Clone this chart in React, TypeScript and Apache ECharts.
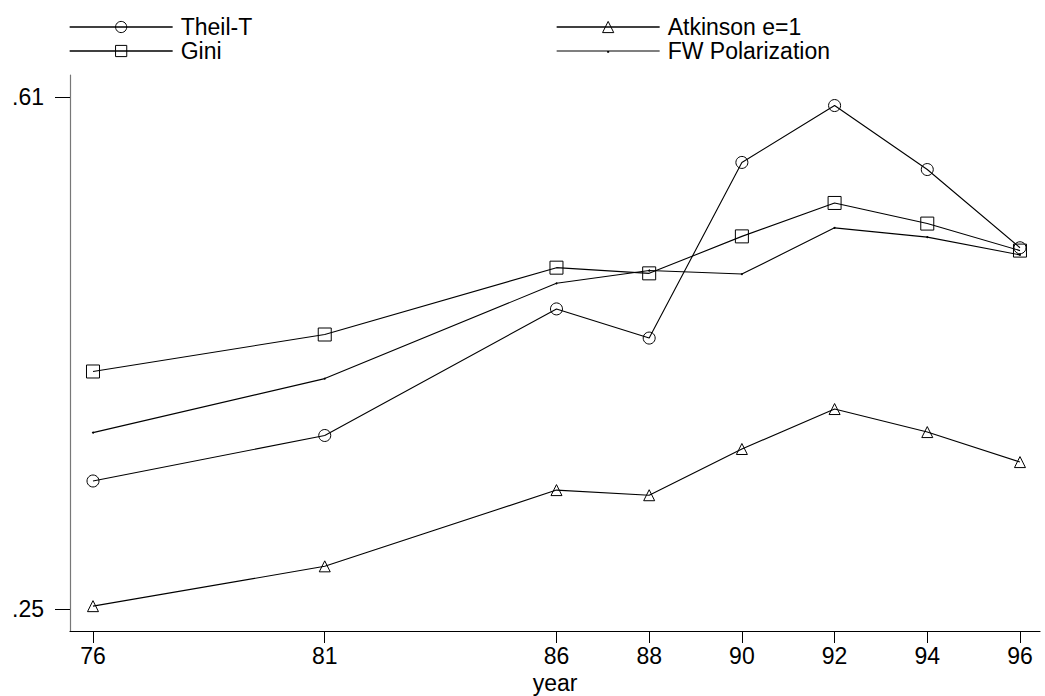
import React, { useEffect, useRef } from "react";
import * as echarts from "echarts";

const years = [76, 81, 86, 88, 90, 92, 94, 96];
const theilT = [0.34, 0.372, 0.461, 0.4405, 0.564, 0.604, 0.559, 0.504];
const gini = [0.417, 0.443, 0.49, 0.486, 0.512, 0.5355, 0.521, 0.502];
const atkinson = [0.252, 0.28, 0.3336, 0.33, 0.3625, 0.3906, 0.3744, 0.3533];
const fwPolarization = [0.374, 0.412, 0.479, 0.488, 0.4855, 0.518, 0.5115, 0.499];
const xTicks = [76, 81, 86, 88, 90, 92, 94, 96];
const yTicks = [0.25, 0.61];

const FONT = "Liberation Sans, Arial, Helvetica, sans-serif";

export default function App() {
  const ref = useRef<HTMLDivElement>(null);
  useEffect(() => {
    if (!ref.current) return;
    const chart = echarts.init(ref.current, null, { renderer: "svg" });
    const pair = (arr: number[]) => years.map((y, i) => [y, arr[i]]);
    const mk = (name: string, arr: number[], symbol: string, size: number, fill: string) => ({
      name,
      type: "line",
      data: pair(arr),
      symbol,
      symbolSize: size,
      showSymbol: true,
      lineStyle: { color: "#000", width: 1.1 },
      itemStyle: { color: fill, borderColor: "#000", borderWidth: fill === "#000" ? 0 : 1 },
      emphasis: { disabled: true },
    });
    const legendBase = {
      orient: "vertical",
      top: 10,
      itemWidth: 103,
      itemHeight: 14,
      itemGap: 0,
      selectedMode: false,
      lineStyle: { width: 1.3, color: "#000" },
      itemStyle: { borderWidth: 1 },
      textStyle: {
        fontFamily: FONT,
        fontSize: 23,
        color: "#000",
        lineHeight: 24,
        padding: [0, 0, 0, 3],
      },
    };
    const fwIcon =
      "path://M0,0 L0.01,0 L0.01,0.01 Z M0,6.5 L103,6.5 L103,7.6 L0,7.6 Z M50.5,6.5 L52.5,6.5 L52.5,8.8 L50.5,8.8 Z M0,14 L0.01,14 L0.01,13.99 Z";
    chart.setOption({
      animation: false,
      backgroundColor: "#fff",
      textStyle: { fontFamily: FONT },
      legend: [
        { ...legendBase, left: 64, data: ["Theil-T", "Gini"] },
        {
          ...legendBase,
          left: 551,
          data: [
            "Atkinson e=1",
            { name: "FW Polarization", icon: fwIcon, itemStyle: { borderWidth: 0, color: "#000" } },
          ],
        },
      ],
      grid: { left: 70, right: 5, top: 75, bottom: 65, containLabel: false, outerBoundsMode: "none" },
      xAxis: {
        type: "value",
        min: 75.504,
        max: 96.432,
        name: "year",
        nameLocation: "middle",
        nameGap: 28,
        nameTextStyle: { fontFamily: FONT, fontSize: 23, color: "#000" },
        axisLine: { show: true, lineStyle: { color: "#000", width: 1.2 } },
        axisTick: { show: true, customValues: xTicks, length: 12, lineStyle: { color: "#000" } },
        axisLabel: {
          customValues: xTicks,
          margin: 13,
          fontFamily: FONT,
          fontSize: 23,
          color: "#000",
        },
        splitLine: { show: false },
      },
      yAxis: {
        type: "value",
        min: 0.23453,
        max: 0.62547,
        axisLine: { show: true, lineStyle: { color: "#777", width: 1.2 } },
        axisTick: { show: true, customValues: yTicks, length: 15, lineStyle: { color: "#000" } },
        axisLabel: {
          customValues: yTicks,
          margin: 26,
          fontFamily: FONT,
          fontSize: 23,
          color: "#000",
          formatter: (v: number) => String(v).replace(/^0/, ""),
        },
        splitLine: { show: false },
      },
      series: [
        mk("Theil-T", theilT, "circle", 12, "rgba(255,255,255,0)"),
        mk("Atkinson e=1", atkinson, "triangle", 11, "rgba(255,255,255,0)"),
        mk("Gini", gini, "rect", 13, "rgba(255,255,255,0)"),
        mk("FW Polarization", fwPolarization, "circle", 2, "#000"),
      ],
    });
    return () => chart.dispose();
  }, []);
  return <div ref={ref} style={{ width: 1045, height: 696, position: "absolute", left: 0, top: 0 }} />;
}
